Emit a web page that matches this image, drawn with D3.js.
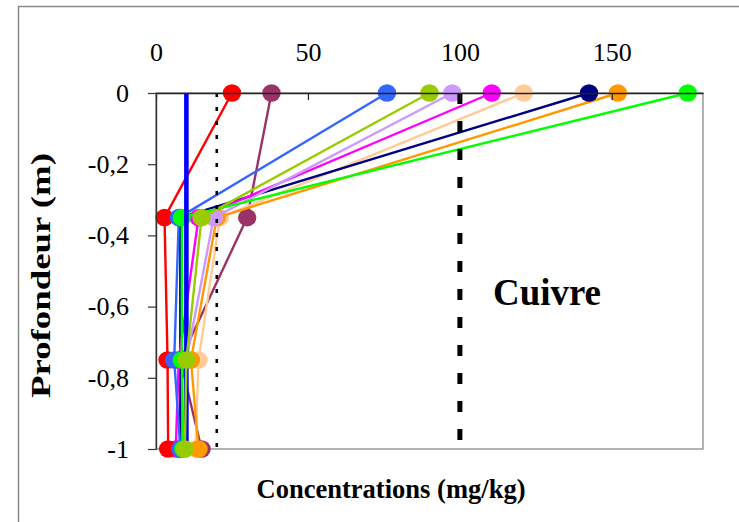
<!DOCTYPE html>
<html lang="fr">
<head>
<meta charset="utf-8">
<script src="https://cdn.jsdelivr.net/npm/d3@7"></script>
<style>
  html, body { margin: 0; padding: 0; background: #fff; }
  svg { display: block; }
  text { font-family: "Liberation Serif", "Times New Roman", serif; fill: #000; }
</style>
</head>
<body>
<svg id="chart" width="739" height="522"></svg>
<script>
// Profondeurs d'échantillonnage (m)
const depths = [0, -0.35, -0.75, -1];

// Teneurs en cuivre (mg/kg) par profil, une valeur par profondeur
const profilRouge   = [25, 2.8, 3.8, 4];
const profilPrune   = [38, 30, 8, 15];
const profilBleu    = [76, 7.5, 6, 8];
const profilOlive   = [90, 15, 10, 9.5];
const profilLavande = [97.5, 19, 10, 9];
const profilMagenta = [110.5, 14, 7.5, 6.5];
const profilPeche   = [121, 21, 14, 13];
const profilMarine  = [142.5, 8, 8, 8];
const profilOrange  = [152, 20, 11.5, 14];
const profilVert    = [175, 8.5, 8.5, 9];

// Fond géochimique (trait épais, sans marqueurs)
const fondGeochimique = [10, 10, 10, 10];

// Seuils de référence
const seuilPointille = 20;
const seuilTirets = 100;

// Graduations
const xTicks = [0, 50, 100, 150];
const yTicks = [0, -0.2, -0.4, -0.6, -0.8, -1];

// Ordre de tracé (du fond vers l'avant)
const series = [
  { values: profilPrune,   color: "#993366", markers: true },
  { values: profilPeche,   color: "#FFCC99", markers: true },
  { values: profilOrange,  color: "#FF9900", markers: true },
  { values: profilMarine,  color: "#000080", markers: true },
  { values: profilMagenta, color: "#FF00FF", markers: true },
  { values: profilLavande, color: "#CC99FF", markers: true },
  { values: profilRouge,   color: "#FF0000", markers: true },
  { values: profilBleu,    color: "#3366FF", markers: true },
  { values: profilVert,    color: "#00FF00", markers: true },
  { values: fondGeochimique, color: "#0000FF", markers: false, thick: true },
  { values: profilOlive,   color: "#99CC00", markers: true }
];

const svg = d3.select("#chart");

const x = d3.scaleLinear().domain([0, 180]).range([156, 703]);
const y = d3.scaleLinear().domain([0, -1]).range([93, 449]);

const fr = d3.formatLocale({ decimal: ",", thousands: " ", grouping: [3], currency: ["", " €"], minus: "-" });
const fmt = fr.format("~g");

// Cadre du graphique
svg.append("rect")
  .attr("x", 18.5).attr("y", 6.5)
  .attr("width", 900).attr("height", 700)
  .attr("fill", "#fff")
  .attr("stroke", "#8a8a8a").attr("stroke-width", 1.5);

// Zone de tracé
svg.append("rect")
  .attr("x", x(0)).attr("y", y(0))
  .attr("width", x(180) - x(0)).attr("height", y(-1) - y(0))
  .attr("fill", "#fff")
  .attr("stroke", "#808080").attr("stroke-width", 1.2);

// Séries
const line = d3.line()
  .x(d => x(d[0]))
  .y(d => y(d[1]));

series.forEach(s => {
  const pts = s.values.map((v, i) => [v, depths[i]]);
  svg.append("path")
    .datum(pts)
    .attr("d", line)
    .attr("fill", "none")
    .attr("stroke", s.color)
    .attr("stroke-width", s.thick ? 4.6 : 2.4)
    .attr("stroke-linejoin", "round");
  if (s.markers) {
    svg.append("g").selectAll("ellipse")
      .data(pts)
      .join("ellipse")
      .attr("cx", d => x(d[0]))
      .attr("cy", d => y(d[1]))
      .attr("rx", 9.2)
      .attr("ry", 8.8)
      .attr("fill", s.color);
  }
});

// Seuils verticaux
svg.append("line")
  .attr("x1", x(seuilPointille)).attr("x2", x(seuilPointille))
  .attr("y1", y(0)).attr("y2", y(-1))
  .attr("stroke", "#000").attr("stroke-width", 2.6)
  .attr("stroke-dasharray", "4,10");

svg.append("line")
  .attr("x1", x(seuilTirets)).attr("x2", x(seuilTirets))
  .attr("y1", y(0)).attr("y2", y(-1))
  .attr("stroke", "#000").attr("stroke-width", 5)
  .attr("stroke-dasharray", "11,17");

// Axe des concentrations (en haut, à la profondeur 0)
const xAxis = svg.append("g")
  .attr("transform", `translate(0,${y(0)})`)
  .call(d3.axisTop(x).tickValues(xTicks).tickSizeInner(-7).tickSizeOuter(0).tickPadding(32).tickFormat(fmt));
xAxis.select(".domain").attr("stroke", "#222").attr("stroke-width", 1.4);
xAxis.selectAll(".tick line").attr("stroke", "#222").attr("stroke-width", 1.2);
xAxis.selectAll(".tick text")
  .attr("font-size", 26)
  .attr("font-family", "Liberation Serif, Times New Roman, serif")
  .attr("fill", "#000");

// Axe des profondeurs
const yAxis = svg.append("g")
  .attr("transform", `translate(${x(0)},0)`)
  .call(d3.axisLeft(y).tickValues(yTicks).tickSizeInner(8).tickSizeOuter(0).tickPadding(19).tickFormat(fmt));
yAxis.select(".domain").attr("stroke", "#333").attr("stroke-width", 1.4);
yAxis.selectAll(".tick line").attr("stroke", "#333").attr("stroke-width", 1.2);
yAxis.selectAll(".tick text")
  .attr("font-size", 26)
  .attr("font-family", "Liberation Serif, Times New Roman, serif")
  .attr("fill", "#000");

// Titres
svg.append("text")
  .attr("x", 391).attr("y", 498)
  .attr("text-anchor", "middle")
  .attr("font-size", 26.5).attr("font-weight", "bold")
  .attr("textLength", 269).attr("lengthAdjust", "spacingAndGlyphs")
  .text("Concentrations (mg/kg)");

svg.append("text")
  .attr("transform", "translate(50,275.5) rotate(-90)")
  .attr("text-anchor", "middle")
  .attr("font-size", 26.5).attr("font-weight", "bold")
  .attr("textLength", 245).attr("lengthAdjust", "spacingAndGlyphs")
  .text("Profondeur (m)");

svg.append("text")
  .attr("x", 547).attr("y", 305)
  .attr("text-anchor", "middle")
  .attr("font-size", 37).attr("font-weight", "bold")
  .attr("textLength", 108).attr("lengthAdjust", "spacingAndGlyphs")
  .text("Cuivre");
</script>
</body>
</html>
